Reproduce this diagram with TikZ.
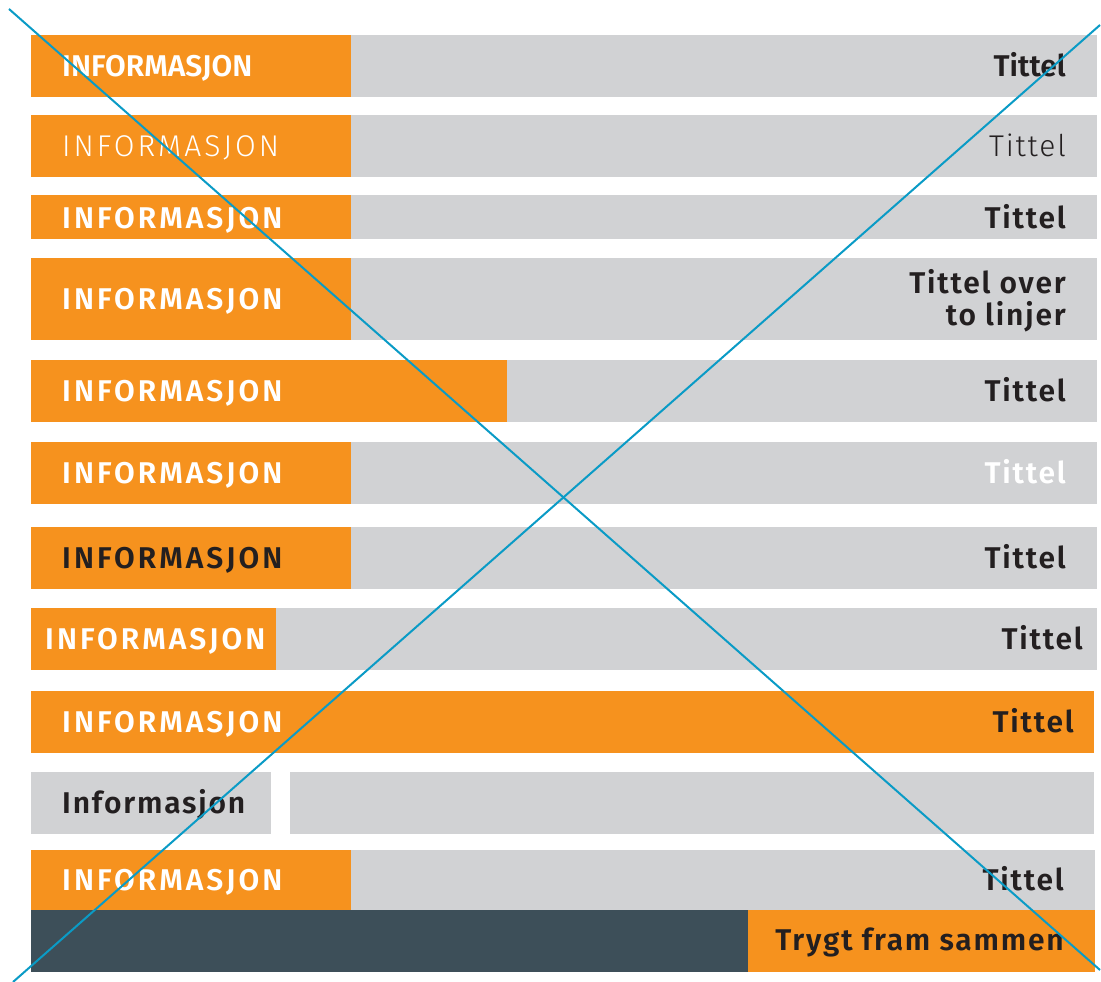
\documentclass[tikz,border=0pt]{standalone}
\usepackage{fontspec}
\setmainfont{Fira Sans}
\newfontfamily\lightfont[LetterSpace=10]{Fira Sans Light}
\newfontfamily\lightlow[LetterSpace=6]{Fira Sans Light}
\newfontfamily\boldsp[LetterSpace=10]{Fira Sans SemiBold}
\newfontfamily\boldlow[LetterSpace=6]{Fira Sans SemiBold}
\newfontfamily\boldnosp{Fira Sans SemiBold}
\definecolor{orng}{HTML}{F6921E}
\definecolor{gry}{HTML}{D1D2D4}
\definecolor{darkbar}{HTML}{3D4F59}
\definecolor{ink}{HTML}{231F20}
\definecolor{crossblue}{HTML}{0A9BC6}
\tikzset{
  bar/.style={inner sep=0pt, outer sep=0pt, anchor=north west, draw=none},
  info/.style={inner sep=0pt, anchor=base west, text=white, font=\fontsize{30}{32}\boldsp},
  ttl/.style={inner sep=0pt, anchor=base east, text=ink, font=\fontsize{30}{32}\boldlow},
  crossline/.style={draw=crossblue, line width=2pt}
}
\newcommand{\barbox}[6]{% name, color, x1, y1, x2, y2
  \node[bar, fill=#2, minimum width={(#5-#3)*1pt}, minimum height={(#6-#4)*1pt}] (#1) at (#3,#4) {};}
\begin{document}
\begin{tikzpicture}[x=1pt,y=-1pt]
\useasboundingbox[fill=white] (0,0) rectangle (1101,982);
% row 1
\barbox{g1}{gry}{351}{35}{1097}{97}
\barbox{o1}{orng}{31}{35}{351}{97}
\node[info, font=\fontsize{30}{32}\boldnosp] (i1) at (62,76.5) {INFORMASJON};
\node[ttl, font=\fontsize{30}{32}\boldnosp] (t1) at (1066,76.5) {Tittel};
% row 2
\barbox{g2}{gry}{351}{115}{1097}{177}
\barbox{o2}{orng}{31}{115}{351}{177}
\node[info, font=\fontsize{30}{32}\lightfont] (i2) at (62,156.5) {INFORMASJON};
\node[ttl, font=\fontsize{30}{32}\lightlow] (t2) at (1066,156.5) {Tittel};
% row 3
\barbox{g3}{gry}{351}{195}{1097}{239}
\barbox{o3}{orng}{31}{195}{351}{239}
\node[info] (i3) at (62,228) {INFORMASJON};
\node[ttl] (t3) at (1066,228) {Tittel};
% row 4
\barbox{g4}{gry}{351}{258}{1097}{340}
\barbox{o4}{orng}{31}{258}{351}{340}
\node[info] (i4) at (62,309.5) {INFORMASJON};
\node[ttl] (t4a) at (1066,293) {Tittel over};
\node[ttl] (t4b) at (1066,325) {to linjer};
% row 5
\barbox{g5}{gry}{507}{360}{1097}{422}
\barbox{o5}{orng}{31}{360}{507}{422}
\node[info] (i5) at (62,401.5) {INFORMASJON};
\node[ttl] (t5) at (1066,401.5) {Tittel};
% row 6
\barbox{g6}{gry}{351}{442}{1097}{504}
\barbox{o6}{orng}{31}{442}{351}{504}
\node[info] (i6) at (62,483.5) {INFORMASJON};
\node[ttl, text=white] (t6) at (1066,483.5) {Tittel};
% row 7
\barbox{g7}{gry}{351}{527}{1097}{589}
\barbox{o7}{orng}{31}{527}{351}{589}
\node[info, text=ink] (i7) at (62,568.5) {INFORMASJON};
\node[ttl] (t7) at (1066,568.5) {Tittel};
% row 8
\barbox{g8}{gry}{276}{608}{1097}{670}
\barbox{o8}{orng}{31}{608}{276}{670}
\node[info] (i8) at (45,649.5) {INFORMASJON};
\node[ttl] (t8) at (1083,649.5) {Tittel};
% row 9
\barbox{o9}{orng}{31}{691}{1094}{753}
\node[info] (i9) at (62,732.5) {INFORMASJON};
\node[ttl] (t9) at (1074,732.5) {Tittel};
% row 10
\barbox{g10a}{gry}{31}{772}{271}{834}
\barbox{g10b}{gry}{290}{772}{1094}{834}
\node[info, text=ink, font=\fontsize{30}{32}\boldlow] (i10) at (62,813.5) {Informasjon};
% row 11
\barbox{g11}{gry}{351}{850}{1095}{910}
\barbox{o11}{orng}{31}{850}{351}{910}
\node[info] (i11) at (62,890) {INFORMASJON};
\node[ttl] (t11) at (1064,890) {Tittel};
% row 12
\barbox{d12}{darkbar}{31}{910}{748}{972}
\barbox{o12}{orng}{748}{910}{1095}{972}
\node[ttl] (t12) at (1064,950.5) {Trygt fram sammen};
% cross
\coordinate (c1) at (9,9);
\coordinate (c2) at (1100,970);
\coordinate (c3) at (1100,25);
\coordinate (c4) at (13,982);
\draw[crossline] (c1) -- (c2);
\draw[crossline] (c3) -- (c4);
\end{tikzpicture}
\end{document}
